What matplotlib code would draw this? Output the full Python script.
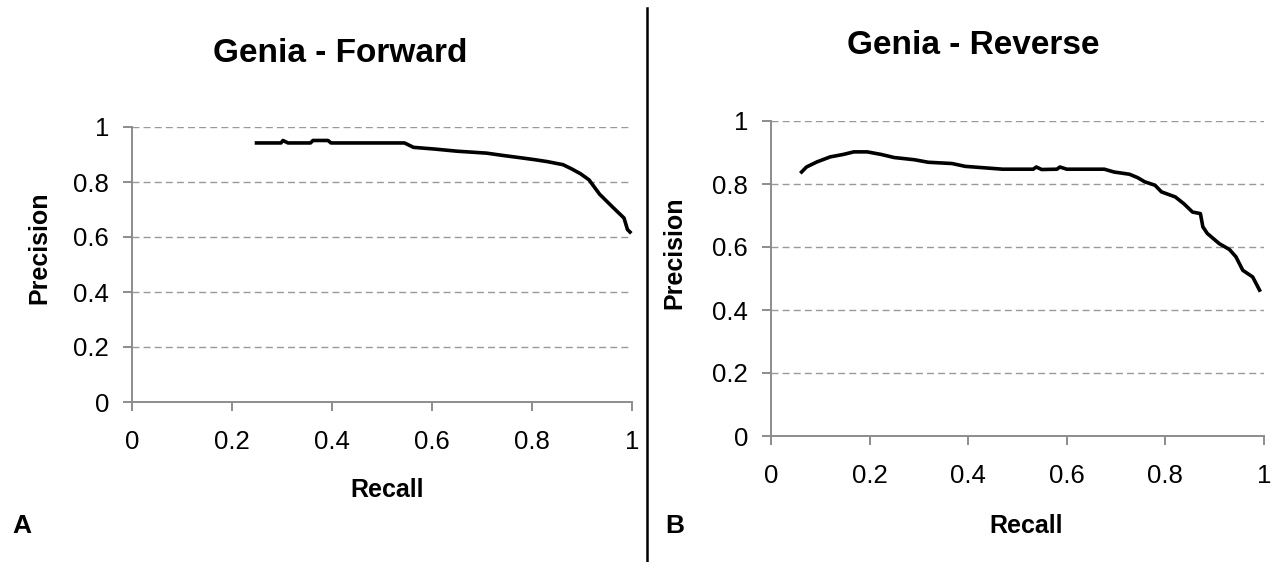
import matplotlib
matplotlib.use("Agg")
import matplotlib.pyplot as plt
from matplotlib.lines import Line2D

plt.rcParams["font.family"] = ["Liberation Sans", "DejaVu Sans"]

# Genia - Forward (recall, precision)
fwd_recall = [0.249, 0.298, 0.302, 0.312, 0.357, 0.362, 0.392, 0.398, 0.545,
              0.563, 0.604, 0.65, 0.709, 0.744, 0.782, 0.806, 0.831, 0.862,
              0.88, 0.897, 0.914, 0.935, 0.96, 0.984, 0.991, 0.996]
fwd_precision = [0.942, 0.942, 0.951, 0.942, 0.942, 0.951, 0.951, 0.942, 0.942,
                 0.926, 0.92, 0.912, 0.905, 0.896, 0.887, 0.881, 0.874, 0.863,
                 0.847, 0.83, 0.808, 0.756, 0.711, 0.669, 0.627, 0.618]

# Genia - Reverse (recall, precision)
rev_recall = [0.062, 0.072, 0.093, 0.12, 0.147, 0.168, 0.195, 0.223, 0.25,
              0.291, 0.319, 0.367, 0.394, 0.47, 0.532, 0.538, 0.549, 0.58,
              0.586, 0.6, 0.676, 0.696, 0.727, 0.744, 0.758, 0.779, 0.792,
              0.82, 0.837, 0.855, 0.871, 0.876, 0.885, 0.909, 0.93, 0.943,
              0.957, 0.977, 0.991]
rev_precision = [0.838, 0.854, 0.870, 0.886, 0.894, 0.902, 0.902, 0.894, 0.884,
                 0.877, 0.869, 0.865, 0.856, 0.847, 0.847, 0.854, 0.846, 0.847,
                 0.854, 0.847, 0.847, 0.838, 0.831, 0.82, 0.807, 0.796, 0.775,
                 0.759, 0.738, 0.711, 0.706, 0.664, 0.643, 0.611, 0.592, 0.569,
                 0.526, 0.505, 0.463]

ticks = [0, 0.2, 0.4, 0.6, 0.8, 1]
tick_labels = ["0", "0.2", "0.4", "0.6", "0.8", "1"]

W, H = 1273, 562
fig = plt.figure(figsize=(W / 100, H / 100), dpi=100)
fig.patch.set_facecolor("white")

GRAY = "#8c8c8c"


def make_axes(x0, x1, y0, y1, recall, precision):
    # pixel box of the plot area -> figure fractions
    ax = fig.add_axes([x0 / W, 1 - y0 / H, (x1 - x0) / W, (y0 - y1) / H])
    ax.plot(recall, precision, color="black", lw=2.6, zorder=3, clip_on=False)
    ax.set_xlim(0, 1)
    ax.set_ylim(0, 1)
    ax.set_xticks(ticks)
    ax.set_xticklabels(tick_labels)
    ax.set_yticks(ticks)
    ax.set_yticklabels(tick_labels)
    for y in ticks[1:]:
        ax.axhline(y, color="#999999", lw=1.0, ls=(0, (5, 3)), zorder=1)
    for s in ("top", "right"):
        ax.spines[s].set_visible(False)
    for s in ("left", "bottom"):
        ax.spines[s].set_color(GRAY)
        ax.spines[s].set_linewidth(1.4)
    ax.tick_params(direction="out", length=6.5, width=1.4, color=GRAY,
                   labelsize=18.5)
    ax.tick_params(axis="x", pad=14)
    ax.tick_params(axis="y", pad=10)
    return ax


make_axes(132, 632, 402, 127, fwd_recall, fwd_precision)
make_axes(771, 1264, 436, 121, rev_recall, rev_precision)


def label(x, y, s, size, rot=0):
    fig.text(x / W, 1 - y / H, s, ha="center", va="center", rotation=rot,
             fontsize=size, fontweight="bold")


label(340, 54, "Genia - Forward", 24)
label(973, 45, "Genia - Reverse", 24)
label(387, 490, "Recall", 18)
label(1026, 526, "Recall", 18)
label(39, 248, "Precision", 18, rot=90)
label(674, 253, "Precision", 18, rot=90)
label(22, 526, "A", 19)
label(675, 526, "B", 19)

# separator between panels
fig.add_artist(Line2D([647.5 / W, 647.5 / W], [0, 1 - 8 / H], color="black", lw=1.8))

fig.savefig("out.png", dpi=100, facecolor="white")
